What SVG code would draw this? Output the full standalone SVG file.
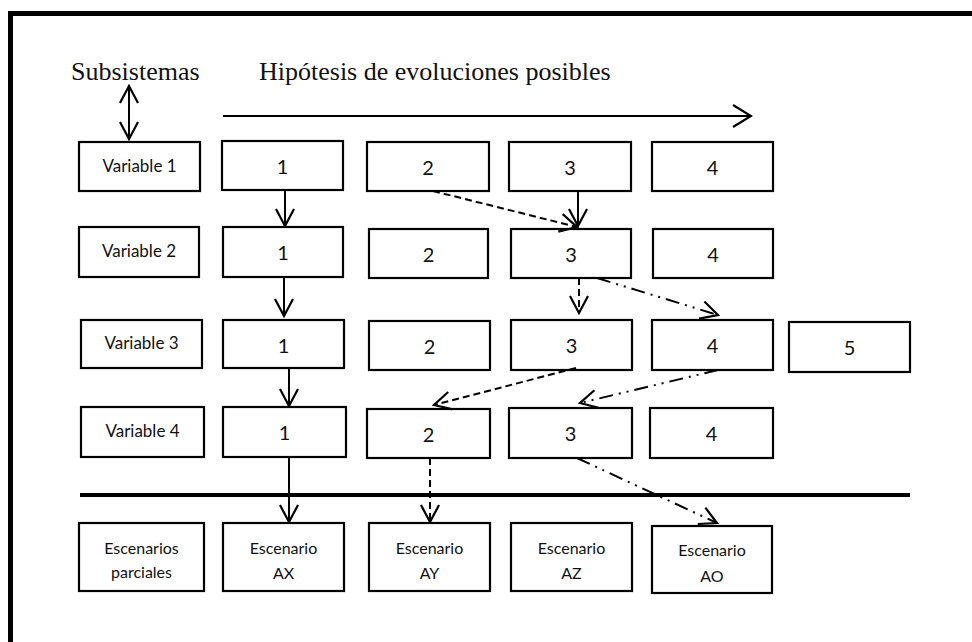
<svg xmlns="http://www.w3.org/2000/svg" width="972" height="642" viewBox="0 0 972 642">
<style>
.box{fill:#fff;stroke:#000;stroke-width:2.2}
.lbl{font-family:Lato,"Liberation Sans",sans-serif;font-size:17px;fill:#111;text-anchor:middle}
.num{font-family:Lato,"Liberation Sans",sans-serif;font-size:20px;fill:#111;text-anchor:middle}
.esc{font-family:Lato,"Liberation Sans",sans-serif;font-size:16px;fill:#111;text-anchor:middle}
.title{font-family:"Liberation Serif","Times New Roman",serif;font-size:26px;fill:#111}
.c{fill:none;stroke:#000;stroke-width:2}
.solid{marker-end:url(#ah)}
.dash{stroke-dasharray:7 4;marker-end:url(#ah)}
.ddot{stroke-dasharray:14 6 2 6 2 6;marker-end:url(#ah)}
</style>
<defs>
<marker id="ah" viewBox="0 0 20 20" refX="18" refY="10" markerWidth="20" markerHeight="20" markerUnits="userSpaceOnUse" orient="auto-start-reverse">
<path d="M1,1 L18,10 L1,19" fill="none" stroke="#000" stroke-width="2.2" stroke-dasharray="none"/>
</marker>
<marker id="big" viewBox="0 0 22 24" refX="20" refY="12" markerWidth="22" markerHeight="24" markerUnits="userSpaceOnUse" orient="auto">
<path d="M2,1 L20,12 L2,23" fill="none" stroke="#000" stroke-width="2.2"/>
</marker>
</defs>
<rect width="972" height="642" fill="#fff"/>
<path d="M10.5,650 V13.5 H980" fill="none" stroke="#000" stroke-width="5"/>

<g id="headers">
<text class="title" x="71" y="80">Subsistemas</text>
<text class="title" x="259" y="80">Hipótesis de evoluciones posibles</text>
</g>

<g id="row1">
<g id="v1"><rect class="box" x="79" y="142" width="121" height="49"/><text class="lbl" x="139.5" y="172">Variable 1</text></g>
<g id="r1n1"><rect class="box" x="222" y="141" width="121" height="49"/><text class="num" x="282.5" y="174">1</text></g>
<g id="r1n2"><rect class="box" x="367" y="142" width="122" height="49"/><text class="num" x="428" y="175">2</text></g>
<g id="r1n3"><rect class="box" x="509" y="142" width="122" height="49"/><text class="num" x="570" y="175">3</text></g>
<g id="r1n4"><rect class="box" x="652" y="142" width="121" height="49"/><text class="num" x="712.5" y="175">4</text></g>
</g>

<g id="row2">
<g id="v2"><rect class="box" x="79" y="227" width="120" height="50"/><text class="lbl" x="139" y="257">Variable 2</text></g>
<g id="r2n1"><rect class="box" x="223" y="227" width="120" height="50"/><text class="num" x="283" y="260">1</text></g>
<g id="r2n2"><rect class="box" x="369" y="229" width="119" height="49"/><text class="num" x="428.5" y="262">2</text></g>
<g id="r2n3"><rect class="box" x="511" y="229" width="120" height="49"/><text class="num" x="571" y="262">3</text></g>
<g id="r2n4"><rect class="box" x="653" y="229" width="120" height="49"/><text class="num" x="713" y="262">4</text></g>
</g>

<g id="row3">
<g id="v3"><rect class="box" x="81" y="320" width="121" height="48"/><text class="lbl" x="141.5" y="349">Variable 3</text></g>
<g id="r3n1"><rect class="box" x="223" y="320" width="121" height="48"/><text class="num" x="283.5" y="353">1</text></g>
<g id="r3n2"><rect class="box" x="369" y="321" width="121" height="49"/><text class="num" x="429.5" y="354">2</text></g>
<g id="r3n3"><rect class="box" x="511" y="320" width="121" height="50"/><text class="num" x="571.5" y="353">3</text></g>
<g id="r3n4"><rect class="box" x="652" y="320" width="121" height="50"/><text class="num" x="712.5" y="353">4</text></g>
<g id="r3n5"><rect class="box" x="789" y="322" width="121" height="50"/><text class="num" x="849.5" y="355">5</text></g>
</g>

<g id="row4">
<g id="v4"><rect class="box" x="81" y="407" width="123" height="50"/><text class="lbl" x="142.5" y="437">Variable 4</text></g>
<g id="r4n1"><rect class="box" x="223" y="407" width="123" height="50"/><text class="num" x="284.5" y="440">1</text></g>
<g id="r4n2"><rect class="box" x="367" y="409" width="123" height="49"/><text class="num" x="428.5" y="442">2</text></g>
<g id="r4n3"><rect class="box" x="509" y="408" width="123" height="50"/><text class="num" x="570.5" y="441">3</text></g>
<g id="r4n4"><rect class="box" x="650" y="408" width="123" height="50"/><text class="num" x="711.5" y="441">4</text></g>
</g>

<g id="scenarios">
<g id="ep"><rect class="box" x="79" y="523" width="125" height="68"/><text class="esc" x="141.5" y="554">Escenarios</text><text class="esc" x="141.5" y="578">parciales</text></g>
<g id="ax"><rect class="box" x="223" y="523" width="121" height="68"/><text class="esc" x="283.5" y="554">Escenario</text><text class="esc" x="283.5" y="579">AX</text></g>
<g id="ay"><rect class="box" x="369" y="523" width="121" height="68"/><text class="esc" x="429.5" y="554">Escenario</text><text class="esc" x="429.5" y="579">AY</text></g>
<g id="az"><rect class="box" x="511" y="523" width="121" height="68"/><text class="esc" x="571.5" y="554">Escenario</text><text class="esc" x="571.5" y="579">AZ</text></g>
<g id="ao"><rect class="box" x="652" y="526" width="120" height="67"/><text class="esc" x="712" y="556">Escenario</text><text class="esc" x="712" y="582">AO</text></g>
</g>

<g id="connectors">
<line x1="129" y1="86" x2="129" y2="139" class="c" marker-start="url(#ah)" marker-end="url(#ah)"/>
<line x1="223" y1="116" x2="751" y2="116" class="c" marker-end="url(#big)"/>
<line x1="80" y1="495" x2="910" y2="495" stroke="#000" stroke-width="4"/>
<line class="c solid" x1="285" y1="190" x2="285" y2="226"/>
<line class="c solid" x1="284" y1="277" x2="284" y2="316"/>
<line class="c solid" x1="289" y1="368" x2="289" y2="406"/>
<line class="c solid" x1="289" y1="457" x2="289" y2="522"/>
<line class="c dash" x1="433" y1="191" x2="577" y2="227"/>
<line class="c solid" x1="578" y1="191" x2="578" y2="226"/>
<line class="c dash" x1="579" y1="278" x2="579" y2="313"/>
<line class="c ddot" x1="597" y1="278" x2="718" y2="315"/>
<line class="c dash" x1="576" y1="368" x2="434" y2="405"/>
<line class="c ddot" x1="718" y1="370" x2="580" y2="403"/>
<line class="c dash" x1="430" y1="458" x2="430" y2="522"/>
<line class="c ddot" x1="577" y1="458" x2="717" y2="523"/>
</g>
</svg>
